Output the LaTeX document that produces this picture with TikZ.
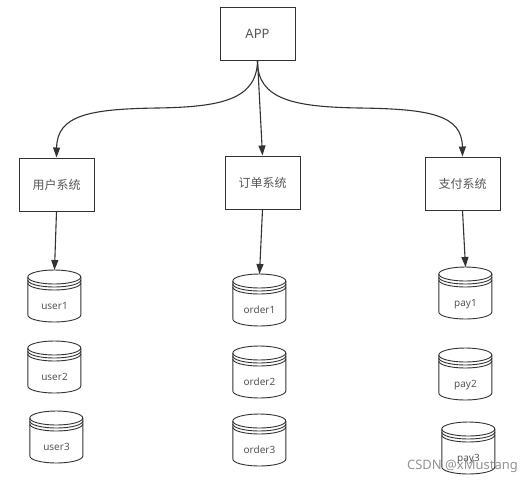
\documentclass[tikz,border=0pt]{standalone}
\usepackage{fontspec}
\setmainfont{Noto Sans}
\newfontfamily\cjk{Noto Sans CJK SC}
\usetikzlibrary{arrows.meta}
\definecolor{inkline}{HTML}{333333}
\definecolor{inktext}{HTML}{555555}
\tikzset{
  sysbox/.style={draw=inkline, fill=white, line width=1pt, minimum width=75pt, minimum height=53pt,
    inner sep=0pt, text=inktext, font=\cjk\fontsize{12}{14}\selectfont},
  dbcyl/.style={anchor=north, minimum width=53pt, minimum height=52pt, inner sep=0pt, text height=39pt,
    text depth=13pt, text=inktext, font=\fontsize{10}{12}\selectfont},
  conn/.style={->, draw=inkline, line width=1.1pt},
  cylline/.style={draw=inkline, line width=0.9pt}
}
% cilindro: nombre, x, y (arriba), texto
\newcommand{\dbnode}[4]{
  \node[dbcyl] (#1) at (#2,#3) {#4};
  \draw[cylline] (#1.north west) ++(0,-7pt) coordinate (#1tl) arc[start angle=180, end angle=0, x radius=26.5pt, y radius=7pt]
    -- ++(0,-38pt) arc[start angle=0, end angle=-180, x radius=26.5pt, y radius=7pt] -- cycle;
  \draw[cylline] (#1tl) arc[start angle=180, end angle=360, x radius=26.5pt, y radius=7pt];
  \draw[cylline] (#1tl) ++(0,-3pt) arc[start angle=180, end angle=360, x radius=26.5pt, y radius=7pt];
  \draw[cylline] (#1tl) ++(0,-6pt) arc[start angle=180, end angle=360, x radius=26.5pt, y radius=7pt];
}
\begin{document}
\begin{tikzpicture}[x=1pt, y=-1pt, >={Triangle[length=10pt, width=7pt]}]
  \useasboundingbox (0,0) rectangle (532,483);
  % cajas
  \node[sysbox, font=\fontsize{13}{15}\selectfont] (app) at (257.5,33.5) {APP};
  \node[sysbox] (user) at (56.5,184.5) {用户系统};
  \node[sysbox] (order) at (262.5,182.5) {订单系统};
  \node[sysbox] (pay) at (462.5,183.5) {支付系统};
  % bases de datos
  \dbnode{userA}{54.5}{270}{user1}
  \dbnode{userB}{54.5}{341}{user2}
  \dbnode{userC}{56.5}{411}{user3}
  \dbnode{orderA}{259.5}{274}{order1}
  \dbnode{orderB}{259.5}{346}{order2}
  \dbnode{orderC}{259.5}{414}{order3}
  \dbnode{payA}{465.5}{267}{pay1}
  \dbnode{payB}{465.5}{348}{pay2}
  \dbnode{payC}{468.5}{422}{pay3}
  % flechas
  \draw[conn] (app.south) .. controls (257,100) and (220,107) .. (157,108) .. controls (90,109) and (57,115) .. (user.north);
  \draw[conn] (app.south) -- (order.north);
  \draw[conn] (app.south) .. controls (257,100) and (295,107) .. (360,108) .. controls (430,109) and (462,115) .. (pay.north);
  \draw[conn] (user.south) -- (userA.north);
  \draw[conn] (order.south) -- (orderA.north);
  \draw[conn] (pay.south) -- (payA.north);
  % marca de agua
  \node[text=black!50, font=\fontsize{13}{15}\selectfont, inner sep=0pt, opacity=0.85] (mark) at (462.5,466) {CSDN @xMustang};
\end{tikzpicture}
\end{document}
